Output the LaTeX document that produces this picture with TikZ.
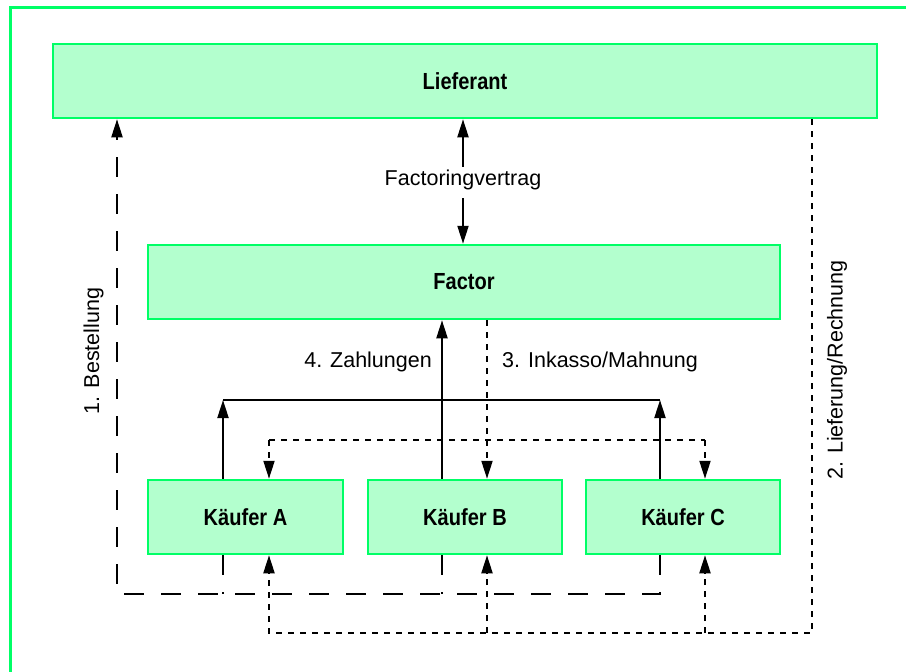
\documentclass[tikz,border=0pt]{standalone}
\usepackage{fontspec}
\setmainfont{Liberation Sans}
\newfontfamily\boxfont{Liberation Sans}[FakeStretch=0.86]
\usetikzlibrary{arrows.meta}
\definecolor{rahmen}{RGB}{0,255,102}
\definecolor{kasten}{RGB}{179,255,206}

\begin{document}
\begin{tikzpicture}[x=1pt,y=-1pt,
  party/.style={rectangle,draw=rahmen,fill=kasten,line width=2.5pt,inner sep=0pt,
    minimum height=74pt,font=\boxfont\bfseries\fontsize{23.3}{28}\selectfont},
  lbl/.style={inner sep=0pt,font=\fontsize{21.5}{26}\selectfont},
  arr/.style={-{Triangle[length=18pt,width=11pt]}},
  flow/.style={line width=2pt},
  longdash/.style={flow,dash pattern=on 20pt off 17pt},
  shortdash/.style={flow,dash pattern=on 6pt off 6pt}]
\useasboundingbox (0,0) rectangle (906,672);
\draw[rahmen,line width=3pt] (10.5,690) |- (920,7.5);

\node [party,minimum width=824pt] (lief) at (465,81) {Lieferant};
\node [party,minimum width=632pt] (fac) at (464,282) {Factor};
\node [party,minimum width=195pt] (ka) at (245.5,517) {Käufer A};
\node [party,minimum width=194pt] (kb) at (465,517) {Käufer B};
\node [party,minimum width=194pt] (kc) at (683,517) {Käufer C};

\node [lbl] (fv) at (463,180) {Factoringvertrag};
\draw[flow,arr] (fv.north) ++(0,-3) -- (fv.north |- lief.south);
\draw[flow,arr] (fv.south) ++(0,8) -- (fv.south |- fac.north);

\coordinate (za) at (223,400);
\coordinate (zb) at (442,400);
\coordinate (zc) at (660,400);
\draw[flow] (za) -- (zc);
\draw[flow,arr] (ka.north -| za) -- (za);
\draw[flow,arr] (kc.north -| zc) -- (zc);
\draw[flow,arr] (kb.north -| zb) -- (zb |- fac.south);
\node [lbl,anchor=east] (zl) at (432,362) {4. Zahlungen};

\coordinate (ia) at (269,440);
\coordinate (ib) at (487,440);
\coordinate (ic) at (705,440);
\draw[shortdash] (ia) -- (ic);
\draw[shortdash,arr] (ib |- fac.south) -- (ib |- kb.north);
\draw[shortdash,arr] (ia) -- (ia |- ka.north);
\draw[shortdash,arr] (ic) -- (ic |- kc.north);
\node [lbl,anchor=west] (il) at (502,362) {3. Inkasso/Mahnung};

\coordinate (ba) at (117,594);
\draw[longdash,arr] (kc.south -| zc) |- (ba) -- (ba |- lief.south);
\draw[longdash] (ka.south -| za) -- (za |- ba);
\draw[longdash] (kb.south -| zb) -- (zb |- ba);
\node [lbl,rotate=90] (bl) at (93.5,351) {1. Bestellung};

\coordinate (lr) at (812,633);
\draw[shortdash,arr] (lief.south -| lr) -- (lr) -| (ia |- ka.south);
\draw[shortdash,arr] (ib |- lr) -- (ib |- kb.south);
\draw[shortdash,arr] (ic |- lr) -- (ic |- kc.south);
\node [lbl,rotate=90] (ll) at (837,370) {2. Lieferung/Rechnung};
\end{tikzpicture}
\end{document}
